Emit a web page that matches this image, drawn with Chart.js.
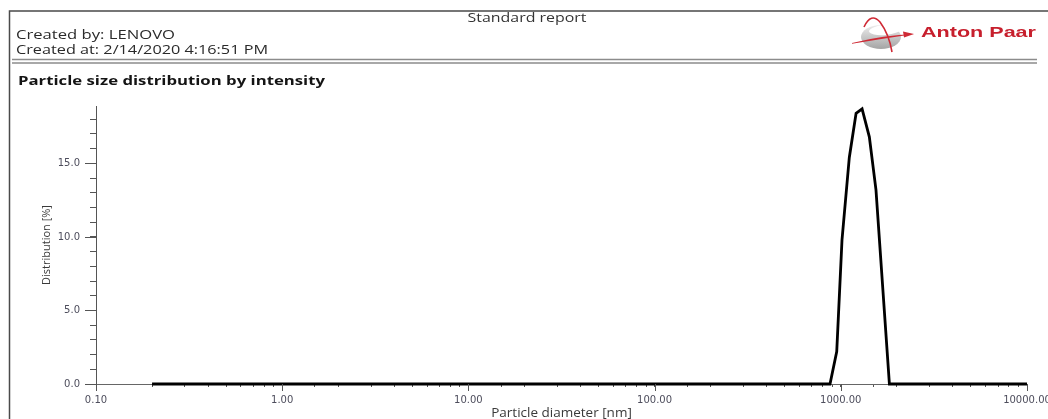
<!DOCTYPE html>
<html>
<head>
<meta charset="utf-8">
<title>Standard report</title>
<script src="https://cdn.jsdelivr.net/npm/chart.js@4.4.1/dist/chart.umd.min.js"></script>
<style>
  html, body { margin: 0; padding: 0; background: #ffffff; }
  canvas { display: block; }
</style>
</head>
<body>
<canvas id="report" width="1048" height="419"></canvas>
<script>
// Particle size distribution by intensity (DLS measurement)
const diameters = [0.2, 875, 951, 1015, 1111, 1208, 1301, 1423, 1545, 1824, 10000]; // nm
const intensity = [0.0, 0.0, 2.2, 9.8, 15.4, 18.4, 18.7, 16.8, 13.2, 0.0, 0.0];     // %

const xDecades = [0.1, 1, 10, 100, 1000, 10000];
const xTickLabels = ['0.10', '1.00', '10.00', '100.00', '1000.00', '10000.00'];
const yMajorTicks = [0, 5, 10, 15];
const yTickLabels = ['0.0', '5.0', '10.0', '15.0'];

const headerBy = 'Created by: LENOVO';
const headerAt = 'Created at: 2/14/2020 4:16:51 PM';
const reportName = 'Standard report';
const chartTitle = 'Particle size distribution by intensity';
const brand = 'Anton Paar';

// draws text squeezed/stretched to a given width
function fitText(ctx, text, x, y, w, font, color, align) {
  ctx.save();
  ctx.font = font;
  ctx.fillStyle = color;
  ctx.textBaseline = 'alphabetic';
  ctx.textAlign = 'left';
  const m = ctx.measureText(text).width;
  const s = w / m;
  ctx.translate(x, y);
  ctx.scale(s, 1);
  ctx.fillText(text, align === 'center' ? -m / 2 : 0, 0);
  ctx.restore();
}

const reportPage = {
  id: 'reportPage',
  beforeDraw(chart) {
    const ctx = chart.ctx;
    ctx.save();
    ctx.fillStyle = '#ffffff';
    ctx.fillRect(0, 0, chart.width, chart.height);

    // page frame
    ctx.strokeStyle = '#4a4a4a';
    ctx.lineWidth = 1.5;
    ctx.beginPath();
    ctx.moveTo(9.5, 419);
    ctx.lineTo(9.5, 11);
    ctx.lineTo(1048, 11);
    ctx.stroke();

    fitText(ctx, reportName, 527, 22, 119, '12px "Open Sans"', '#333333', 'center');
    fitText(ctx, headerBy, 16, 39, 159, '12px "Open Sans"', '#2a2a2a');
    fitText(ctx, headerAt, 16, 54, 252, '12px "Open Sans"', '#2a2a2a');

    // double rule under the header
    ctx.strokeStyle = '#8c8c8c';
    ctx.lineWidth = 1.5;
    ctx.beginPath();
    ctx.moveTo(12, 59.5); ctx.lineTo(1037, 59.5);
    ctx.moveTo(12, 63); ctx.lineTo(1037, 63);
    ctx.stroke();

    fitText(ctx, chartTitle, 18, 85, 307, 'bold 13px "Open Sans"', '#141414');

    // brand mark: grey sphere with red orbits
    const g = ctx.createLinearGradient(0, 25, 0, 49);
    g.addColorStop(0, '#ececec');
    g.addColorStop(1, '#a4a4a4');
    ctx.fillStyle = g;
    ctx.beginPath();
    ctx.ellipse(881, 37, 20, 12, 0, 0, Math.PI * 2);
    ctx.fill();
    ctx.fillStyle = '#ffffff';
    ctx.beginPath();
    ctx.ellipse(885, 30, 16, 5, -0.08, 0, Math.PI * 2);
    ctx.fill();
    ctx.strokeStyle = '#cf2a35';
    ctx.lineWidth = 1.6;
    ctx.beginPath();
    ctx.moveTo(864, 27);
    ctx.quadraticCurveTo(871, 12, 880, 22);
    ctx.quadraticCurveTo(889, 34, 892, 52);
    ctx.stroke();
    // swoosh tapering to a point
    ctx.fillStyle = '#cf2a35';
    ctx.beginPath();
    ctx.moveTo(852, 43);
    ctx.quadraticCurveTo(884, 35, 914, 34);
    ctx.quadraticCurveTo(884, 38.5, 852, 43.8);
    ctx.closePath();
    ctx.fill();
    ctx.beginPath();
    ctx.moveTo(903, 31.5); ctx.lineTo(914, 34); ctx.lineTo(904, 37.5);
    ctx.closePath();
    ctx.fill();

    fitText(ctx, brand, 921, 37, 115, 'bold 14px "Liberation Sans"', '#c71f2d');
    ctx.restore();
  },
  afterDraw(chart) {
    // longer marks on the labelled ticks
    const ctx = chart.ctx;
    const xs = chart.scales.x, ys = chart.scales.y;
    ctx.save();
    ctx.strokeStyle = '#555555';
    ctx.lineWidth = 1;
    ctx.beginPath();
    xDecades.forEach(v => {
      const px = Math.round(xs.getPixelForValue(v)) + 0.5;
      ctx.moveTo(px, ys.bottom);
      ctx.lineTo(px, ys.bottom + 7);
    });
    yMajorTicks.forEach(v => {
      const py = Math.round(ys.getPixelForValue(v)) + 0.5;
      ctx.moveTo(xs.left - 11, py);
      ctx.lineTo(xs.left, py);
    });
    ctx.stroke();
    ctx.restore();
  }
};

const tickFont = { family: '"DejaVu Sans"', size: 10 };

new Chart(document.getElementById('report'), {
  type: 'line',
  data: {
    datasets: [{
      data: diameters.map((d, i) => ({ x: d, y: intensity[i] })),
      borderColor: '#000000',
      borderWidth: 2.8,
      pointRadius: 0,
      tension: 0,
      fill: false,
      clip: false
    }]
  },
  options: {
    responsive: false,
    devicePixelRatio: 1,
    animation: false,
    events: [],
    layout: { padding: { left: 0, top: 106, right: 21, bottom: 0 } },
    plugins: { legend: { display: false }, tooltip: { enabled: false }, title: { display: false } },
    scales: {
      x: {
        type: 'logarithmic',
        min: 0.1,
        max: 10000,
        afterFit: s => { s.height = 35; s.paddingLeft = 0; s.paddingRight = 0; },
        border: { display: true, color: '#666666', width: 1 },
        grid: { drawOnChartArea: false, drawTicks: true, tickLength: 3, color: '#555555' },
        ticks: {
          autoSkip: false,
          maxRotation: 0,
          padding: 7,
          color: '#4d4d5c',
          font: tickFont,
          callback: v => {
            const i = xDecades.findIndex(d => Math.abs(d - v) < d * 1e-6);
            return i >= 0 ? xTickLabels[i] : '';
          }
        },
        title: {
          display: true,
          text: 'Particle diameter [nm]',
          color: '#3a3a3a',
          font: { family: '"Open Sans"', size: 13.5, lineHeight: 1.0 },
          padding: { top: 0, bottom: -1 }
        }
      },
      y: {
        min: 0,
        max: 18.9,
        afterFit: s => { s.width = 96; s.paddingTop = 0; s.paddingBottom = 0; },
        border: { display: true, color: '#555555', width: 1 },
        grid: { drawOnChartArea: false, drawTicks: true, tickLength: 6, color: '#555555' },
        ticks: {
          stepSize: 1,
          includeBounds: false,
          autoSkip: false,
          padding: 10,
          color: '#4d4d5c',
          font: tickFont,
          callback: v => {
            const i = yMajorTicks.indexOf(Math.round(v * 1000) / 1000);
            return i >= 0 ? yTickLabels[i] : '';
          }
        },
        title: {
          display: true,
          text: 'Distribution [%]',
          color: '#3a3a3a',
          font: { family: '"Open Sans"', size: 11, lineHeight: 1.2 },
          padding: { top: 40, bottom: 0 }
        }
      }
    }
  },
  plugins: [reportPage]
});
</script>
</body>
</html>
